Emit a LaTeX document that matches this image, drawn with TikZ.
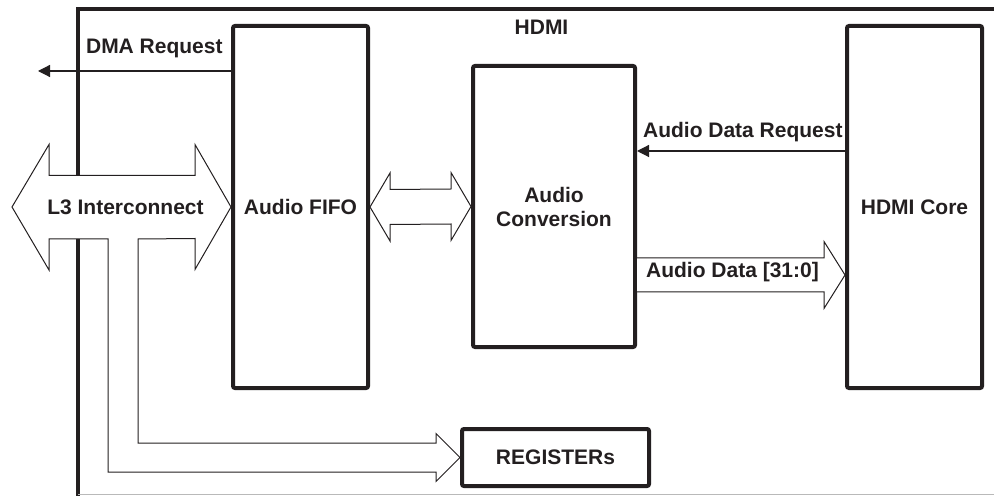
\documentclass[tikz,border=0pt]{standalone}
\usepackage{fontspec}
\setmainfont{Liberation Sans}
\usetikzlibrary{calc,arrows.meta}

\definecolor{ink}{HTML}{231F20}

\tikzset{
    block/.style={draw=ink, line width=2pt, rounded corners=1pt, inner sep=0pt,
        align=center, text=ink, font=\bfseries\fontsize{10.5}{12}\selectfont},
    lbl/.style={inner sep=0pt, text=ink, font=\bfseries\fontsize{10.5}{12}\selectfont},
    sig/.style={draw=ink, line width=0.6pt, -{Triangle[length=6pt,width=6pt]}},
    bus/.style={draw=ink, line width=0.5pt, fill=white, line join=miter},
    hdmibox/.style={draw=ink, line width=2pt},
}

\begin{document}
\begin{tikzpicture}[x=0.5pt, y=-0.5pt]

    \useasboundingbox (0,0) rectangle (994,496);

    % 補助座標の定義
    \coordinate (l3end) at (12,207);
    \coordinate (dma) at (38,71);
    \coordinate (req) at (0,151);
    \coordinate (dat) at (0,275);

    % HDMI の枠
    \draw [hdmibox] (1000,9) -- (78,9) -- (78,500);
    \draw [gray!55, line width=0.5pt] (78,494) -- (994,494);
    \node [lbl, anchor=base] (hdmilbl) at (541.5,35) {HDMI};

    % ブロックの描画
    \node [block, minimum width=67.5pt, minimum height=181pt] (fifo) at (300.5,207) {Audio FIFO};
    \node [block, minimum width=81pt, minimum height=140.5pt] (conv) at (554,206.5) {Audio\\Conversion};
    \node [block, minimum width=67.5pt, minimum height=181pt] (core) at (914.5,207) {HDMI Core};
    \node [block, minimum width=93.5pt, minimum height=28.5pt] (regs) at (555.5,457.5) {REGISTERs};

    % L3 からのバス
    \draw [bus] (l3end) -- ++(37,-62.5) -- ++(0,31)
        -- ($(fifo.west)+(-36,-31.5)$) -- ++(0,-31) -- (fifo.west)
        -- ++(-36,62.5) -- ++(0,-31)
        -- (138,239) |- ($(regs.west)+(-24,-14.5)$) -- ++(0,-9.5) -- (regs.west)
        -- ++(-24,24) -- ++(0,-9.5) -| (108,239) -- (49,239) -- ++(0,31) -- cycle;
    \node [lbl] (l3) at (125.5,207) {L3 Interconnect};

    % FIFO と変換の間のバス
    \draw [bus] (fifo.east) -- ++(20,-34) -- ++(0,16.5)
        -- ($(conv.west)+(-20,-17.5)$) -- ++(0,-16.5) -- (conv.west)
        -- ++(-20,34) -- ++(0,-16.5)
        -- ($(fifo.east)+(20,17.5)$) -- ++(0,16.5) -- cycle;

    % オーディオデータ
    \draw [bus] ($(conv.east |- dat)+(0,-17)$) -- ($(core.west |- dat)+(-21,-17)$)
        -- ++(0,-16.5) -- (core.west |- dat) -- ++(-21,33.5) -- ++(0,-16.5)
        -- ($(conv.east |- dat)+(0,17)$);
    \node [lbl, anchor=base] (datlbl) at (732.5,278) {Audio Data [31:0]};

    % 信号線
    \draw [sig] (fifo.west |- dma) -- (dma);
    \node [lbl, anchor=base east] (dmalbl) at ($(fifo.west |- dma)+(-8,-17)$) {DMA Request};
    \draw [sig] (core.west |- req) -- (conv.east |- req);
    \node [lbl, anchor=base east] (reqlbl) at ($(core.west |- req)+(-2,-13)$) {Audio Data Request};

\end{tikzpicture}
\end{document}
